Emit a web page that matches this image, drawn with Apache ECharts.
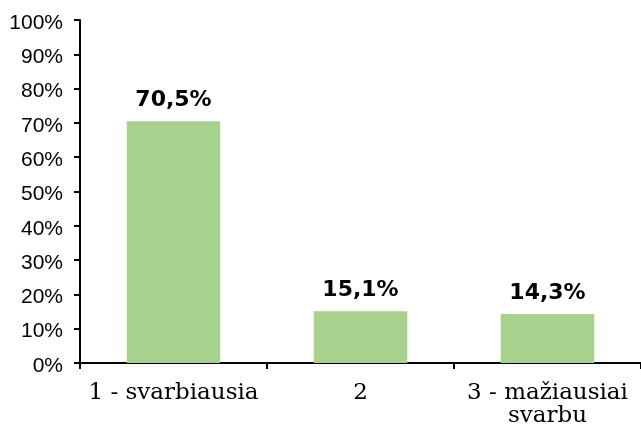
<!DOCTYPE html>
<html>
<head>
<meta charset="utf-8">
<script src="https://cdn.jsdelivr.net/npm/echarts@6/dist/echarts.min.js"></script>
<style>html,body{margin:0;padding:0;background:#fff}#c{width:641px;height:432px}</style>
</head>
<body>
<div id="c"></div>
<script>
var categories = ['1 - svarbiausia', '2', '3 - mažiausiai\nsvarbu'];
var values = [70.5, 15.1, 14.3];
var yTicks = [0, 10, 20, 30, 40, 50, 60, 70, 80, 90, 100];

var chart = echarts.init(document.getElementById('c'));
chart.setOption({
  animation: false,
  grid: { left: 80, right: 0, top: 20, bottom: 69 },
  xAxis: {
    type: 'category',
    data: categories,
    axisLine: { lineStyle: { color: '#000', width: 2 } },
    axisTick: { show: true, length: 6, lineStyle: { color: '#000', width: 2 } },
    axisLabel: {
      color: '#000', fontFamily: 'DejaVu Serif', fontSize: 23, margin: 19, lineHeight: 23,
      interval: 0
    }
  },
  yAxis: {
    type: 'value',
    min: yTicks[0], max: yTicks[yTicks.length - 1], interval: 10,
    axisLine: { show: true, lineStyle: { color: '#000', width: 2 } },
    axisTick: { show: true, length: 6, lineStyle: { color: '#000', width: 2 } },
    splitLine: { show: false },
    axisLabel: {
      color: '#000', fontFamily: 'Arial, Liberation Sans', fontSize: 21, margin: 17,
      verticalAlign: 'top', lineHeight: 6,
      formatter: function (v) { return v + '%'; }
    }
  },
  series: [{
    type: 'bar',
    data: values,
    barWidth: '50%',
    itemStyle: { color: '#a9d18e' },
    label: {
      show: true, position: 'top', distance: 10,
      color: '#000', fontFamily: 'DejaVu Sans', fontWeight: 'bold', fontSize: 22,
      formatter: function (p) { return p.value.toFixed(1).replace('.', ',') + '%'; }
    }
  }]
});
</script>
</body>
</html>
